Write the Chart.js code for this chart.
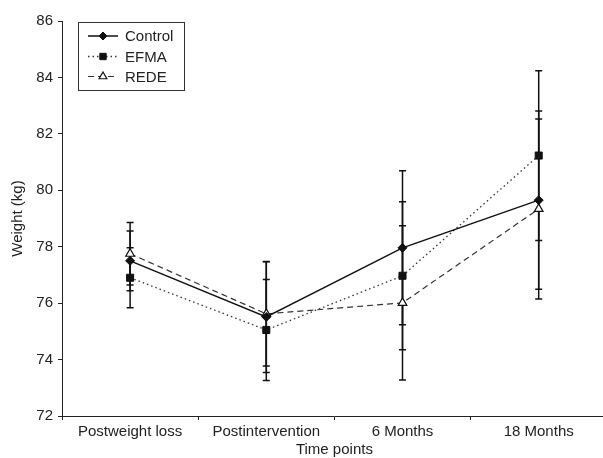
<!DOCTYPE html>
<html>
<head>
<meta charset="utf-8">
<script src="https://cdn.jsdelivr.net/npm/chart.js@4.4.0/dist/chart.umd.min.js"></script>
<style>
  html, body { margin: 0; padding: 0; background: #fff; overflow: hidden; }
</style>
</head>
<body>
<canvas id="myChart" width="613" height="458"></canvas>
<script>
// data
const categories = ['Postweight loss', 'Postintervention', '6 Months', '18 Months'];
const control = [77.5, 75.51, 77.96, 79.65];
const controlErr = [1.06, 1.97, 2.73, 3.16];
const efma = [76.9, 75.05, 76.97, 81.23];
const efmaErr = [1.06, 1.79, 2.62, 3.01];
const rede = [77.75, 75.62, 76.01, 79.34];
const redeErr = [1.11, 1.85, 2.73, 3.19];
const yTicks = [72, 74, 76, 78, 80, 82, 84, 86];

const ink = '#222';
const font = { family: '"Liberation Sans", Arial, sans-serif', size: 15 };

// error bars, drawn under the markers
const errorBars = {
  id: 'errorBars',
  beforeDatasetsDraw(chart) {
    const ctx = chart.ctx;
    const y = chart.scales.y;
    ctx.save();
    ctx.strokeStyle = '#111';
    ctx.lineWidth = 1.5;
    chart.data.datasets.forEach((ds, i) => {
      const meta = chart.getDatasetMeta(i);
      meta.data.forEach((pt, j) => {
        const v = ds.data[j], e = ds.err[j];
        const top = y.getPixelForValue(v + e);
        const bot = y.getPixelForValue(v - e);
        ctx.beginPath();
        ctx.moveTo(pt.x, top); ctx.lineTo(pt.x, bot);
        ctx.moveTo(pt.x - 3.5, top); ctx.lineTo(pt.x + 3.5, top);
        ctx.moveTo(pt.x - 3.5, bot); ctx.lineTo(pt.x + 3.5, bot);
        ctx.stroke();
      });
    });
    ctx.restore();
  }
};

// boxed legend with line samples
const boxLegend = {
  id: 'boxLegend',
  afterDraw(chart) {
    const ctx = chart.ctx;
    ctx.save();
    ctx.strokeStyle = '#333';
    ctx.lineWidth = 1;
    ctx.strokeRect(78.5, 22.5, 106, 68);
    const rows = [36, 56.5, 76.5];
    chart.data.datasets.forEach((ds, i) => {
      const yy = rows[i];
      ctx.beginPath();
      ctx.strokeStyle = ds.borderColor;
      ctx.lineWidth = ds.borderWidth;
      ctx.setLineDash(ds.borderDash || []);
      ctx.moveTo(88, yy); ctx.lineTo(118, yy);
      ctx.stroke();
      ctx.setLineDash([]);
      ctx.fillStyle = ds.pointBackgroundColor;
      ctx.strokeStyle = ds.pointBorderColor;
      ctx.lineWidth = ds.pointBorderWidth;
      Chart.helpers.drawPoint(ctx, { pointStyle: ds.pointStyle, radius: ds.pointRadius - 0.5, rotation: 0, borderWidth: ds.pointBorderWidth }, 103, yy);
      ctx.fillStyle = ink;
      ctx.font = '15px ' + font.family;
      ctx.textBaseline = 'middle';
      ctx.fillText(ds.label, 125, yy + 1);
    });
    ctx.restore();
  }
};

const data = {
  labels: categories,
  datasets: [
    {
      label: 'Control',
      data: control,
      err: controlErr,
      borderColor: '#111',
      borderWidth: 1.5,
      pointStyle: 'rectRot',
      pointRadius: 4.5,
      pointBackgroundColor: '#111',
      pointBorderColor: '#111',
      pointBorderWidth: 1
    },
    {
      label: 'EFMA',
      data: efma,
      err: efmaErr,
      borderColor: '#333',
      borderWidth: 1.3,
      borderDash: [1.5, 3],
      pointStyle: 'rect',
      pointRadius: 5,
      pointBackgroundColor: '#111',
      pointBorderColor: '#111',
      pointBorderWidth: 1
    },
    {
      label: 'REDE',
      data: rede,
      err: redeErr,
      borderColor: '#333',
      borderWidth: 1.2,
      borderDash: [6, 4],
      pointStyle: 'triangle',
      pointRadius: 5,
      pointBackgroundColor: '#fff',
      pointBorderColor: '#111',
      pointBorderWidth: 1.2
    }
  ]
};

const config = {
  type: 'line',
  data,
  plugins: [errorBars, boxLegend],
  options: {
    responsive: false,
    animation: false,
    layout: { padding: { top: 21, right: 0, bottom: 0, left: 0 } },
    plugins: {
      legend: { display: false },
      tooltip: { enabled: false }
    },
    scales: {
      x: {
        type: 'category',
        offset: true,
        afterFit(scale) { scale.height = 42; },
        grid: { display: true, drawOnChartArea: false, offset: true, tickLength: 4, color: ink, tickColor: ink },
        border: { display: true, color: ink, width: 1 },
        ticks: { color: ink, font, padding: 3, maxRotation: 0, autoSkip: false },
        title: { display: true, text: 'Time points', color: ink, font: { ...font, lineHeight: 1.05 }, padding: { top: 0, bottom: 0 } }
      },
      y: {
        min: 72,
        max: 86,
        afterFit(scale) { scale.width = 62; },
        afterBuildTicks(scale) { scale.ticks = yTicks.map(v => ({ value: v })); },
        grid: { display: true, drawOnChartArea: false, tickLength: 4, color: ink, tickColor: ink },
        border: { display: true, color: ink, width: 1 },
        ticks: { color: ink, font, padding: 5 },
        title: { display: true, text: 'Weight (kg)', color: ink, font, padding: { top: 9, bottom: 0 } }
      }
    }
  }
};

const myChart = new Chart(document.getElementById('myChart'), config);
</script>
</body>
</html>
